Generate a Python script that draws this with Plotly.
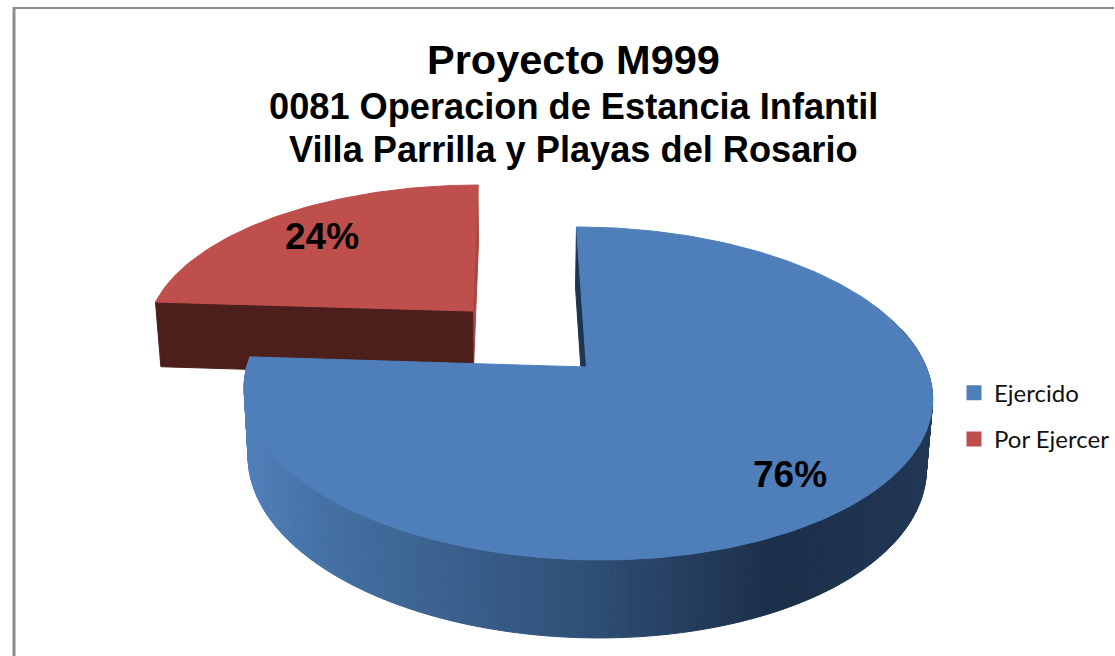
import math
import plotly.graph_objects as go

# ---- data
categories = ["Ejercido", "Por Ejercer"]
values = [76, 24]
slice_labels = ["76%", "24%"]
title_lines = ["Proyecto M999", "0081 Operacion de Estancia Infantil", "Villa Parrilla y Playas del Rosario"]

# ---- style / projection of the 3D pie
TOP_COLORS = ["#4f7fbb", "#be4f4c"]
WALL_RED = "#4c1f1d"
WALL_RED_EDGE = "#a94543"
WALL_BLUE = "#1e3552"
W, H = 1115, 656
CX, CY = 587, 367
VX = 514
RX, RY, K = 340, 162.3, 0.159
DEPTH, SHRINK = 68, 0.985
PULL = 0.5
SIDE_STOPS = [(245, (80, 128, 186)), (330, (68, 112, 163)), (590, (47, 79, 118)),
              (780, (28, 47, 73)), (930, (32, 55, 84))]


def project(u, v, low=False):
    w = 1 + K * v
    x = VX + ((CX - VX) + RX * u) / w
    y = -RY * v / w
    if low:
        x = VX + (x - VX) * SHRINK
        y = y * SHRINK + DEPTH / w
    return x, CY + y


def polar(frac, du=0.0, dv=0.0):
    a = 2 * math.pi * frac
    return math.sin(a) + du, math.cos(a) + dv


def side_color(x):
    if x <= SIDE_STOPS[0][0]:
        return "rgb(%d,%d,%d)" % SIDE_STOPS[0][1]
    for (x0, c0), (x1, c1) in zip(SIDE_STOPS, SIDE_STOPS[1:]):
        if x <= x1:
            t = (x - x0) / (x1 - x0)
            return "rgb(%d,%d,%d)" % tuple(round(a + (b - a) * t) for a, b in zip(c0, c1))
    return "rgb(%d,%d,%d)" % SIDE_STOPS[-1][1]


def poly(pts, color, name=None, legend=False, line=False):
    xs = [p[0] for p in pts] + [pts[0][0]]
    ys = [p[1] for p in pts] + [pts[0][1]]
    return go.Scatter(x=xs, y=ys, mode="lines", fill="toself", fillcolor=color,
                      line=dict(color=color, width=1 if line else 0),
                      name=name, showlegend=legend, hoverinfo="skip")


fig = go.Figure()
total = sum(values)
f_start = 0.0
f_split = values[0] / total

# second slice (behind, pulled out)
mid = (f_split + 1.0) / 2
du, dv = PULL * math.sin(2 * math.pi * mid), PULL * math.cos(2 * math.pi * mid)
n = 80
fr = [f_split + (1 - f_split) * i / n for i in range(n + 1)]
rim = [polar(f, du, dv) for f in fr]
fig.add_trace(poly([project(du, dv), project(*rim[-1]), project(*rim[-1], low=True), project(du, dv, low=True)],
                   WALL_RED_EDGE, line=True))
fig.add_trace(poly([project(du, dv), project(*rim[0]), project(*rim[0], low=True), project(du, dv, low=True)],
                   WALL_RED, line=True))
fig.add_trace(poly([project(du, dv)] + [project(*p) for p in rim], TOP_COLORS[1], line=True))

# first slice: outer side as many narrow strips, then inner wall and top
n = 300
fr = [f_start + f_split * i / n for i in range(n + 1)]
rim = [polar(f) for f in fr]
fig.add_trace(poly([project(0, 0), project(*rim[0]), project(*rim[0], low=True), project(0, 0, low=True)],
                   WALL_BLUE, line=True))
for a, b in zip(rim, rim[1:]):
    if (a[1] + b[1]) / 2 > 0.25:
        continue
    xm = project(*a)[0]
    fig.add_trace(poly([project(*a), project(*b), project(*b, low=True), project(*a, low=True)],
                       side_color(xm), line=True))
fig.add_trace(poly([project(0, 0)] + [project(*p) for p in rim], TOP_COLORS[0], line=True))

# legend entries
for cat, col in zip(categories, TOP_COLORS):
    fig.add_trace(go.Scatter(x=[None], y=[None], mode="markers", name=cat, legendgroup=cat,
                             marker=dict(symbol="square", size=15, color=col)))

ann = []
for txt, yy, sz in zip(title_lines, [59, 106, 149], [41.5, 36.2, 36.2]):
    ann.append(dict(x=574, y=yy, text="<b>%s</b>" % txt, showarrow=False, xref="x", yref="y",
                    font=dict(family="Liberation Sans", size=sz, color="black")))
ann.append(dict(x=791, y=474, text="<b>%s</b>" % slice_labels[0], showarrow=False,
                font=dict(family="Liberation Sans", size=37, color="black")))
ann.append(dict(x=322, y=236, text="<b>%s</b>" % slice_labels[1], showarrow=False,
                font=dict(family="Liberation Sans", size=37, color="black")))

border = dict(color="#8c8c8c", width=2)
fig.update_layout(
    width=W, height=H, margin=dict(l=0, r=0, t=0, b=0),
    paper_bgcolor="white", plot_bgcolor="white",
    xaxis=dict(range=[0, W], visible=False, fixedrange=True),
    yaxis=dict(range=[H, 0], visible=False, fixedrange=True),
    annotations=ann,
    shapes=[dict(type="line", x0=14, x1=14, y0=7, y1=H, line=dict(color="#8c8c8c", width=3), layer="above"),
            dict(type="line", x0=14, x1=W, y0=8, y1=8, line=border, layer="above")],
    legend=dict(x=0.8565, y=0.435, xanchor="left", yanchor="top", bgcolor="rgba(0,0,0,0)",
                font=dict(family="Lato", size=24, color="#111111"), itemsizing="trace",
                tracegroupgap=12, itemwidth=30),
)
fig.write_html("out.html", config=dict(displayModeBar=False),
               post_script="document.body.style.margin='0';document.body.style.overflow='hidden';")
